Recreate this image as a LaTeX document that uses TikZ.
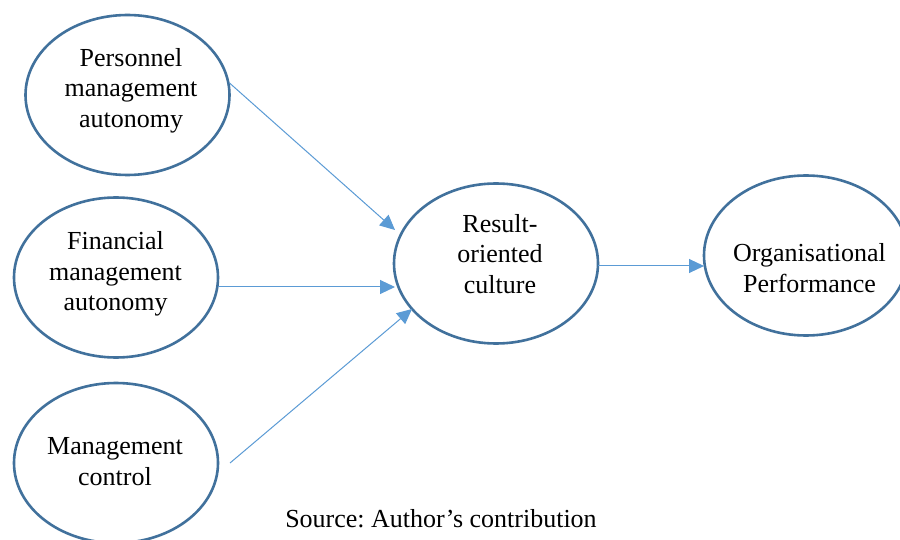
\documentclass[tikz,border=0pt]{standalone}
\usepackage{fontspec}
\setmainfont{Liberation Serif}
\usetikzlibrary{shapes.geometric,arrows.meta,calc}
\definecolor{ellline}{HTML}{41719C}
\definecolor{arrline}{HTML}{5B9BD5}
\frenchspacing
\begin{document}
\begin{tikzpicture}[x=1pt,y=-1pt,
  oval/.style={ellipse,draw=ellline,line width=2.6pt,minimum width=204pt,minimum height=160pt,inner sep=0pt,outer sep=0pt},
  lbl/.style={font=\fontsize{26}{30.5}\selectfont,align=center,inner sep=0pt},
  link/.style={draw=arrline,line width=1pt,-{Triangle[length=15pt,width=14pt]}}]
\clip (0,0) rectangle (900,540);
\fill[white] (0,0) rectangle (900,540);
\node[oval] (p) at (127.5,95) {};
\node[oval] (f) at (116,277.5) {};
\node[oval] (m) at (116,463) {};
\node[oval] (r) at (496,263.5) {};
\node[oval] (o) at (806,255.5) {};
\node[lbl] (pt) at (131,90.5) {Personnel\\management\\autonomy};
\node[lbl] (ft) at (115.5,274) {Financial\\management\\autonomy};
\node[lbl] (mt) at (115,461.5) {Management\\control};
\node[lbl] (rt) at (500,254) {Result-\\oriented\\culture};
\node[lbl] (ot) at (809.5,268) {Organisational\\Performance};
\node[lbl,anchor=base] (src) at (441,527) {Source: Author’s contribution};
\draw[link] ($(p.east)+(0,-12)$) -- ($(r.center)+(-101,-33.5)$);
\draw[link] ($(f.east)+(0,9.5)$) -- ($(r.west)+(1,23.5)$);
\draw[link] ($(m.east)+(12,0)$) -- ($(r.center)+(-84,45.5)$);
\draw[link] ($(r.east)+(0,2.5)$) -- ($(o.west)+(0,10.5)$);
\end{tikzpicture}
\end{document}
